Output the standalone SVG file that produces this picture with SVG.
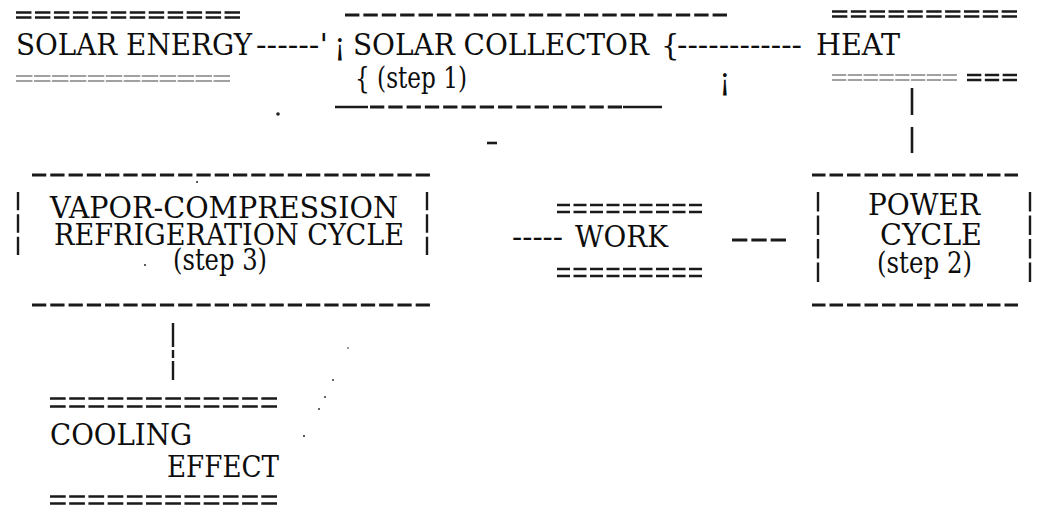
<svg xmlns="http://www.w3.org/2000/svg" width="1037" height="518" viewBox="0 0 1037 518">
<style>
text{font-family:'DejaVu Serif','Liberation Serif','Times New Roman',serif;font-size:29px;fill:#0d0d0d}
.bd{stroke:#1a1a1a;stroke-width:3;fill:none}
.eq{stroke:#1a1a1a;stroke-width:2.6;fill:none}
.th{stroke:#444;stroke-width:1.2;fill:none}
.vb{stroke:#1a1a1a;stroke-width:2.4;fill:none}
.sl{stroke:#1a1a1a;stroke-width:2.6;fill:none}
.dot{fill:#222}
</style>
<rect width="1037" height="518" fill="#fff"/>

<g id="solar-energy">
  <line class="eq" x1="16" y1="12.5" x2="240" y2="12.5" stroke-dasharray="15.46 3.5"/>
  <line class="eq" x1="16" y1="17.5" x2="240" y2="17.5" stroke-dasharray="15.46 3.5"/>
  <text y="55"><tspan x="16" textLength="236" lengthAdjust="spacingAndGlyphs">SOLAR ENERGY</tspan><tspan x="256" textLength="72" lengthAdjust="spacingAndGlyphs">------'</tspan></text>
  <line class="th" x1="16" y1="76" x2="230" y2="76" stroke-dasharray="16.46 1.5"/>
  <line class="th" x1="16" y1="81" x2="230" y2="81" stroke-dasharray="16.46 1.5"/>
</g>

<g id="solar-collector">
  <line class="bd" x1="345" y1="15" x2="727" y2="15" stroke-dasharray="14.38 4"/>
  <text x="334" y="55">¡</text>
  <text y="55"><tspan x="353" textLength="296" lengthAdjust="spacingAndGlyphs">SOLAR COLLECTOR</tspan><tspan x="661">{</tspan><tspan x="677" textLength="125" lengthAdjust="spacingAndGlyphs">------------</tspan></text>
  <text x="355" y="88" textLength="112" lengthAdjust="spacingAndGlyphs">{ (step 1)</text>
  <text x="719" y="90">¡</text>
  <line class="sl" x1="335" y1="107" x2="368" y2="107"/>
  <line class="bd" x1="370" y1="107" x2="622" y2="107" stroke-dasharray="14.29 4"/>
  <line class="sl" x1="623" y1="107" x2="662" y2="107"/>
</g>

<g id="heat">
  <line class="eq" x1="832" y1="11.5" x2="1017" y2="11.5" stroke-dasharray="15.35 3.5"/>
  <line class="eq" x1="832" y1="16.5" x2="1017" y2="16.5" stroke-dasharray="15.35 3.5"/>
  <text x="816" y="55" textLength="84" lengthAdjust="spacingAndGlyphs">HEAT</text>
  <line class="th" x1="832" y1="75" x2="957" y2="75" stroke-dasharray="14.3 1.5"/>
  <line class="th" x1="832" y1="80" x2="957" y2="80" stroke-dasharray="14.3 1.5"/>
  <line class="eq" x1="967" y1="75" x2="1017" y2="75" stroke-dasharray="14.33 3.5"/>
  <line class="eq" x1="967" y1="80" x2="1017" y2="80" stroke-dasharray="14.33 3.5"/>
</g>

<g id="power-cycle">
  <line class="bd" x1="812" y1="175" x2="1018" y2="175" stroke-dasharray="13.5 4"/>
  <line class="bd" x1="812" y1="305" x2="1018" y2="305" stroke-dasharray="13.5 4"/>
  <line class="vb" x1="818" y1="192" x2="818" y2="282" stroke-dasharray="19.5 4"/>
  <line class="vb" x1="1030" y1="192" x2="1030" y2="282" stroke-dasharray="19.5 4"/>
  <text x="868" y="215" textLength="112" lengthAdjust="spacingAndGlyphs">POWER</text>
  <text x="880" y="245" textLength="102" lengthAdjust="spacingAndGlyphs">CYCLE</text>
  <text x="877" y="273" textLength="95" lengthAdjust="spacingAndGlyphs">(step 2)</text>
</g>

<g id="work">
  <line class="eq" x1="557" y1="205" x2="702" y2="205" stroke-dasharray="13 3.5"/>
  <line class="eq" x1="557" y1="212" x2="702" y2="212" stroke-dasharray="13 3.5"/>
  <text y="247"><tspan x="512" textLength="51" lengthAdjust="spacingAndGlyphs">-----</tspan><tspan x="575" textLength="93" lengthAdjust="spacingAndGlyphs">WORK</tspan></text>
  <line class="eq" x1="557" y1="269" x2="702" y2="269" stroke-dasharray="13 3.5"/>
  <line class="eq" x1="557" y1="276" x2="702" y2="276" stroke-dasharray="13 3.5"/>
</g>

<g id="vapor-compression">
  <line class="bd" x1="32" y1="175" x2="430" y2="175" stroke-dasharray="14.27 4"/>
  <line class="bd" x1="32" y1="305" x2="430" y2="305" stroke-dasharray="14.27 4"/>
  <line class="vb" x1="18" y1="192" x2="18" y2="255" stroke-dasharray="18.33 4"/>
  <line class="vb" x1="427" y1="192" x2="427" y2="255" stroke-dasharray="18.33 4"/>
  <text x="50" y="218" textLength="348" lengthAdjust="spacingAndGlyphs">VAPOR-COMPRESSION</text>
  <text x="54" y="245" textLength="350" lengthAdjust="spacingAndGlyphs">REFRIGERATION CYCLE</text>
  <text x="173" y="270" textLength="94" lengthAdjust="spacingAndGlyphs">(step 3)</text>
</g>

<g id="cooling-effect">
  <line class="eq" x1="50" y1="398.5" x2="277" y2="398.5" stroke-dasharray="15.71 3.5"/>
  <line class="eq" x1="50" y1="406.5" x2="277" y2="406.5" stroke-dasharray="15.71 3.5"/>
  <text x="50" y="445" textLength="142" lengthAdjust="spacingAndGlyphs">COOLING</text>
  <text x="167" y="477" textLength="112" lengthAdjust="spacingAndGlyphs">EFFECT</text>
  <line class="eq" x1="50" y1="496.5" x2="277" y2="496.5" stroke-dasharray="15.71 3.5"/>
  <line class="eq" x1="50" y1="503.5" x2="277" y2="503.5" stroke-dasharray="15.71 3.5"/>
</g>

<g id="connectors">
  <line class="sl" x1="912" y1="88" x2="912" y2="115" stroke-width="3"/>
  <line class="sl" x1="912" y1="127" x2="912" y2="153" stroke-width="3"/>
  <line class="bd" x1="732" y1="240" x2="786" y2="240" stroke-dasharray="15.33 4"/>
  <line class="sl" x1="487" y1="143" x2="497" y2="143" stroke-width="3"/>
  <line class="vb" x1="173" y1="323" x2="173" y2="380" stroke-dasharray="24 3 8 3"/>
</g>

<g id="specks">
  <circle class="dot" cx="278" cy="114" r="1.8"/>
  <circle class="dot" cx="197" cy="182" r="1"/>
  <circle class="dot" cx="145" cy="265" r="1"/>
  <circle class="dot" cx="348" cy="348" r="0.8"/>
  <circle class="dot" cx="333" cy="380" r="0.9"/>
  <circle class="dot" cx="325" cy="397" r="0.9"/>
  <circle class="dot" cx="319" cy="409" r="0.9"/>
  <circle class="dot" cx="304" cy="436" r="1"/>
</g>
</svg>
